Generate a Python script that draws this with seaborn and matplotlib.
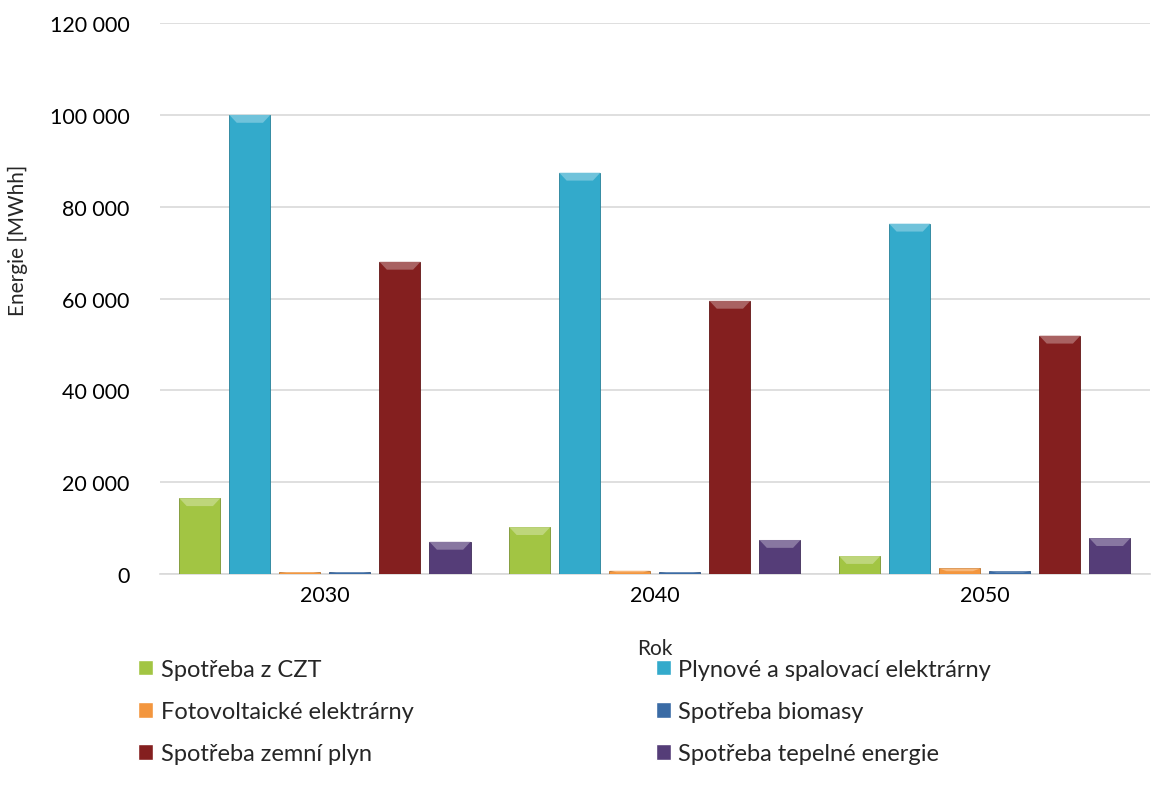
import numpy as np
import pandas as pd
import matplotlib
matplotlib.use("Agg")
import matplotlib.pyplot as plt
import seaborn as sns
from matplotlib.ticker import FuncFormatter
from matplotlib.patches import Polygon
import matplotlib.colors as mcolors

years = ["2030", "2040", "2050"]
series = ["Spotřeba z CZT", "Plynové a spalovací elektrárny", "Fotovoltaické elektrárny",
          "Spotřeba biomasy", "Spotřeba zemní plyn", "Spotřeba tepelné energie"]
czt = [16500, 10200, 3900]
plyn_el = [100000, 87400, 76300]
foto = [400, 700, 1200]
biomasa = [400, 400, 600]
zemni_plyn = [68000, 59500, 51900]
tepelna = [7000, 7400, 7800]
colors = ["#A2C543", "#33AACB", "#F3963E", "#3A6BA5", "#841F1F", "#553D78"]

values = [czt, plyn_el, foto, biomasa, zemni_plyn, tepelna]
rows = []
for s, vals in zip(series, values):
    for y, v in zip(years, vals):
        rows.append({"Rok": y, "Série": s, "Energie": v})
df = pd.DataFrame(rows)

sns.set_theme(style="white")
plt.rcParams["font.family"] = ["Lato", "DejaVu Sans"]

fig = plt.figure(figsize=(11.59, 8.03), dpi=100)
ax = fig.add_axes([0.138, 0.284, 0.854, 0.686])

sns.barplot(data=df, x="Rok", y="Energie", hue="Série", hue_order=series,
            palette=colors, width=0.91, gap=0.18, ax=ax, legend=True,
            errorbar=None, saturation=1)

# bevel-like highlight on bars
px_per_unit = ax.transData.transform((0, 1))[1] - ax.transData.transform((0, 0))[1]
for container, col in zip(ax.containers, colors):
    rgb = np.array(mcolors.to_rgb(col))
    dark = tuple(rgb * 0.75)
    light = tuple(np.clip(rgb + (1 - rgb) * 0.3, 0, 1))
    for p in container.patches:
        p.set_edgecolor(dark)
        p.set_linewidth(0.6)
        p.set_zorder(3)
        x0, w, h = p.get_x(), p.get_width(), p.get_height()
        if h <= 0:
            continue
        bev = min(9 / px_per_unit, h * 0.5)
        inset = w * 0.18
        poly = Polygon([(x0, h), (x0 + w, h), (x0 + w - inset, h - bev), (x0 + inset, h - bev)],
                       closed=True, facecolor=light, edgecolor="none", zorder=4)
        ax.add_patch(poly)

ax.set_ylim(0, 120000)
ax.set_yticks(np.arange(0, 120001, 20000))
ax.yaxis.set_major_formatter(FuncFormatter(lambda v, p: f"{int(v):,}".replace(",", " ")))
ax.grid(axis="y", color="#D9D9D9", linewidth=1.2, zorder=0)
ax.set_axisbelow(True)
for s in ["top", "right", "left"]:
    ax.spines[s].set_visible(False)
ax.spines["bottom"].set_color("#D9D9D9")
ax.spines["bottom"].set_linewidth(1.2)
ax.tick_params(axis="both", length=0, labelsize=15.5, colors="#000000")
ax.tick_params(axis="y", pad=22)
ax.tick_params(axis="x", pad=8)
ax.set_xlabel("Rok", fontsize=15, labelpad=24)
ax.set_ylabel("Energie [MWhh]", fontsize=15)
ax.yaxis.set_label_coords(-0.133, 0.608)

handles, labels = ax.get_legend_handles_labels()
ax.get_legend().remove()
order = [0, 2, 4, 1, 3, 5]
fig.legend([handles[i] for i in order], [labels[i] for i in order],
           loc="upper left", bbox_to_anchor=(0.111, 0.18, 0.752, 0.01), mode="expand",
           ncol=2, frameon=False, fontsize=17, handlelength=0.65, handleheight=0.65,
           handletextpad=0.3, labelspacing=0.9, borderaxespad=0)

fig.savefig("out.png", dpi=100)
